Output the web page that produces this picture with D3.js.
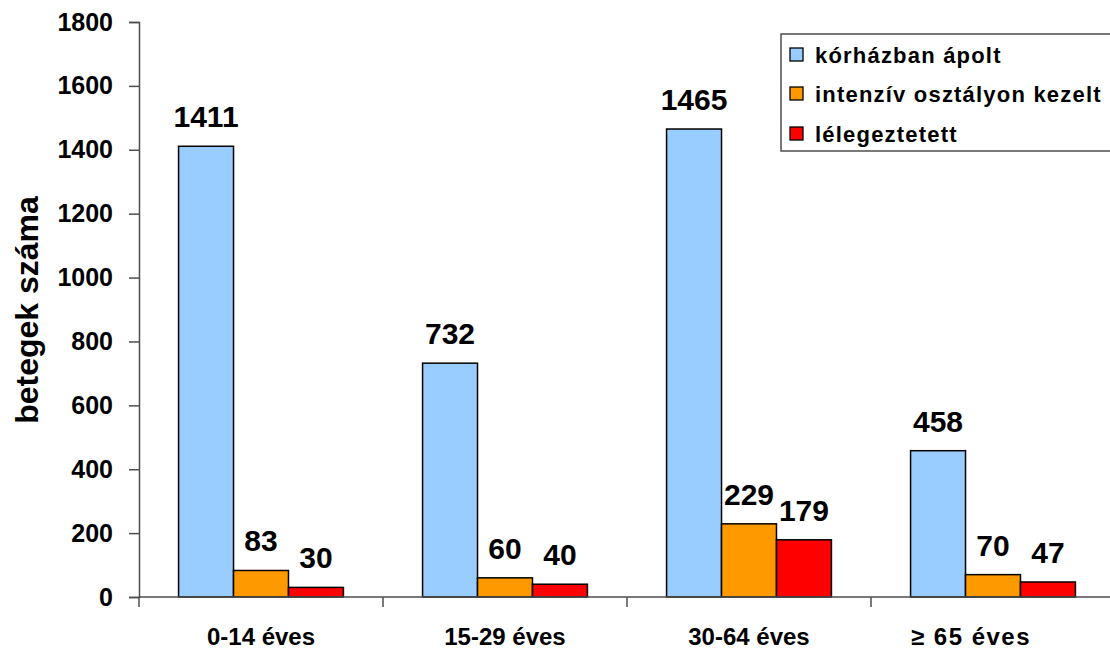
<!DOCTYPE html>
<html>
<head>
<meta charset="utf-8">
<script src="https://cdn.jsdelivr.net/npm/d3@7"></script>
<style>
  html, body { margin: 0; padding: 0; background: #fff; }
  svg { display: block; font-family: "Liberation Sans", Arial, sans-serif; }
</style>
</head>
<body>
<svg id="chart" width="1110" height="649"></svg>
<script>
// Age groups and patient counts per care level
const categories = ["0-14 éves", "15-29 éves", "30-64 éves", "\u2265 65 éves"];
const seriesNames = ["kórházban ápolt", "intenzív osztályon kezelt", "lélegeztetett"];
const hospitalized = [1411, 732, 1465, 458];
const intensive = [83, 60, 229, 70];
const ventilated = [30, 40, 179, 47];
const yTicks = [0, 200, 400, 600, 800, 1000, 1200, 1400, 1600, 1800];
const colors = ["#99CCFF", "#FF9900", "#FF0000"];

const series = [hospitalized, intensive, ventilated];

const svg = d3.select("#chart");
const margin = { left: 139, right: -5, top: 22, bottom: 52 };
const W = 1110, H = 649;
const axisColor = "#4d4d4d";

const x = d3.scaleBand()
  .domain(categories)
  .range([margin.left, W - margin.right])
  .paddingInner(0).paddingOuter(0);

const inner = d3.scaleBand()
  .domain(d3.range(series.length))
  .range([0, x.bandwidth()])
  .paddingOuter(0.72).paddingInner(0);

const y = d3.scaleLinear()
  .domain([0, 1800])
  .range([H - margin.bottom, margin.top]);

// Bars
series.forEach((vals, si) => {
  svg.append("g")
    .selectAll("rect")
    .data(vals)
    .join("rect")
    .attr("x", (d, i) => x(categories[i]) + inner(si))
    .attr("y", d => y(d))
    .attr("width", inner.bandwidth())
    .attr("height", d => y(0) - y(d))
    .attr("fill", colors[si])
    .attr("stroke", "#000")
    .attr("stroke-width", 1.5);
});

// Value labels
series.forEach((vals, si) => {
  svg.append("g")
    .selectAll("text")
    .data(vals)
    .join("text")
    .attr("x", (d, i) => x(categories[i]) + inner(si) + inner.bandwidth() / 2)
    .attr("y", d => y(d) - 19)
    .attr("text-anchor", "middle")
    .attr("font-size", 30)
    .attr("font-weight", "bold")
    .attr("fill", "#000")
    .text(d => d);
});

// Y axis
const yAxis = svg.append("g")
  .attr("transform", `translate(${margin.left},0)`)
  .call(d3.axisLeft(y).tickValues(yTicks).tickSize(10).tickPadding(16).tickFormat(d3.format("d")));
yAxis.select(".domain").attr("stroke", axisColor).attr("stroke-width", 1.5);
yAxis.selectAll(".tick line").attr("stroke", axisColor).attr("stroke-width", 1.5);
yAxis.selectAll(".tick text")
  .attr("font-size", 25).attr("font-weight", "bold").attr("fill", "#000")
  .attr("font-family", "Liberation Sans, Arial, sans-serif");

// X axis with boundary ticks between groups
const xAxisG = svg.append("g").attr("transform", `translate(0,${y(0)})`);
xAxisG.append("line")
  .attr("x1", margin.left).attr("x2", W)
  .attr("stroke", axisColor).attr("stroke-width", 1.5);
xAxisG.selectAll("line.tk")
  .data(categories)
  .join("line")
  .attr("class", "tk")
  .attr("x1", d => x(d)).attr("x2", d => x(d))
  .attr("y1", 0).attr("y2", 10)
  .attr("stroke", axisColor).attr("stroke-width", 1.5);
xAxisG.selectAll("text")
  .data(categories)
  .join("text")
  .attr("x", (d, i) => x(d) + x.bandwidth() / 2 - (i === 3 ? 22 : 0))
  .attr("y", 48)
  .attr("text-anchor", "middle")
  .attr("font-size", 24)
  .attr("font-weight", "bold")
  .attr("letter-spacing", (d, i) => i === 3 ? 1.5 : 0)
  .text(d => d);

// Y axis title
svg.append("text")
  .attr("transform", `translate(38,310) rotate(-90)`)
  .attr("text-anchor", "middle")
  .attr("font-size", 32)
  .attr("font-weight", "bold")
  .text("betegek száma");

// Legend
const lg = svg.append("g").attr("transform", "translate(781,34)");
lg.append("rect")
  .attr("width", 340).attr("height", 117)
  .attr("fill", "#fff").attr("stroke", axisColor).attr("stroke-width", 1.5);
const rows = [21, 60, 100];
seriesNames.forEach((name, i) => {
  lg.append("rect")
    .attr("x", 9).attr("y", rows[i] - 7)
    .attr("width", 13).attr("height", 13)
    .attr("fill", colors[i]).attr("stroke", "#000").attr("stroke-width", 1.3);
  lg.append("text")
    .attr("x", 34).attr("y", rows[i] + 8)
    .attr("font-size", 22).attr("font-weight", "bold")
    .attr("letter-spacing", 1.2)
    .text(name);
});
</script>
</body>
</html>
